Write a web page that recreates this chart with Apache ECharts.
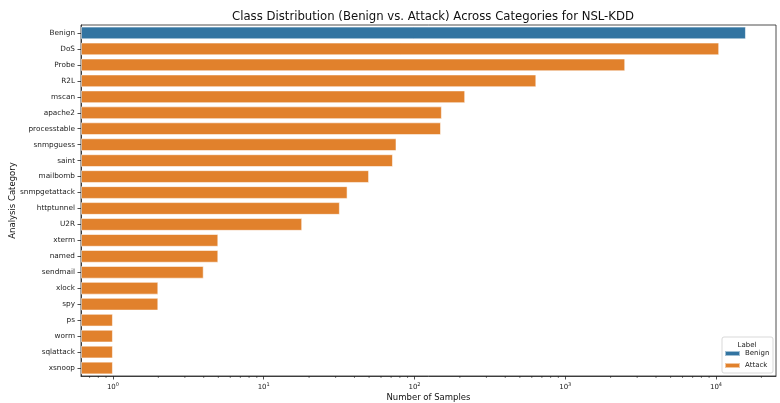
<!DOCTYPE html>
<html>
<head>
<meta charset="utf-8">
<script src="https://cdn.jsdelivr.net/npm/echarts@6/dist/echarts.min.js"></script>
<style>
  html, body { margin: 0; padding: 0; background: #fff; }
  #chart { width: 780px; height: 403px; }
</style>
</head>
<body>
<div id="chart"></div>
<script>
// Samples per analysis category in NSL-KDD
const categories = ['Benign', 'DoS', 'Probe', 'R2L', 'mscan', 'apache2', 'processtable',
  'snmpguess', 'saint', 'mailbomb', 'snmpgetattack', 'httptunnel', 'U2R', 'xterm',
  'named', 'sendmail', 'xlock', 'spy', 'ps', 'worm', 'sqlattack', 'xsnoop'];
const counts = [15800, 10500, 2500, 643, 217, 152, 150, 76, 72, 50, 36, 32, 18, 5,
  5, 4, 2, 2, 1, 1, 1, 1];
const labels = ['Benign', 'Attack', 'Attack', 'Attack', 'Attack', 'Attack', 'Attack',
  'Attack', 'Attack', 'Attack', 'Attack', 'Attack', 'Attack', 'Attack', 'Attack',
  'Attack', 'Attack', 'Attack', 'Attack', 'Attack', 'Attack', 'Attack'];
const labelNames = ['Benign', 'Attack'];
const labelColors = ['#3274a1', '#e1812c'];
const xMin = 0.614, xMax = 25000;

const grid = { left: 81, right: 4, top: 25, bottom: 27 };
const font = 'DejaVu Sans';

const chart = echarts.init(document.getElementById('chart'), null, { renderer: 'canvas' });

const series = labelNames.map((name, i) => ({
  name: name,
  type: 'bar',
  barGap: '-100%',
  barCategoryGap: '20%',
  itemStyle: { color: labelColors[i], borderColor: 'rgba(255,255,255,0.55)', borderWidth: 1 },
  data: counts.map((v, k) => labels[k] === name ? v : '-'),
  emphasis: { disabled: true },
  animation: false
}));

chart.setOption({
  animation: false,
  title: {
    text: 'Class Distribution (Benign vs. Attack) Across Categories for NSL-KDD',
    left: 428, top: 6, textAlign: 'center',
    textStyle: { fontFamily: font, fontSize: 11.7, fontWeight: 'normal', color: '#111' }
  },
  grid: Object.assign({ show: true, borderColor: '#222', borderWidth: 0.8, backgroundColor: '#fff',
    outerBoundsMode: 'none', containLabel: false }, grid),
  xAxis: {
    type: 'log', logBase: 10, min: xMin, max: xMax, startValue: xMin,
    name: 'Number of Samples', nameLocation: 'middle', nameGap: 17, nameMoveOverlap: false,
    nameTextStyle: { fontFamily: font, fontSize: 8.5, color: '#111' },
    axisLine: { show: true, lineStyle: { color: '#222', width: 0.8 } },
    axisTick: { show: true, length: 3.5, lineStyle: { color: '#222', width: 0.8 } },
    splitLine: { show: false },
    axisLabel: {
      showMinLabel: false, showMaxLabel: false, margin: 6,
      fontFamily: font, fontSize: 7, color: '#222',
      formatter: v => '10{s|' + Math.round(Math.log10(v)) + '}',
      rich: { s: { fontSize: 5, verticalAlign: 'top', padding: [0, 0, 5, 0], fontFamily: font, color: '#222' } }
    }
  },
  yAxis: {
    type: 'category', data: categories, inverse: true,
    name: 'Analysis Category', nameLocation: 'middle', nameGap: 64, nameRotate: 90, nameMoveOverlap: false,
    nameTextStyle: { fontFamily: font, fontSize: 8.5, color: '#111' },
    axisLine: { show: true, lineStyle: { color: '#222', width: 0.8 } },
    axisTick: { show: true, alignWithLabel: true, length: 3.5, lineStyle: { color: '#222', width: 0.8 } },
    axisLabel: { fontFamily: font, fontSize: 7.3, color: '#222', margin: 6 }
  },
  legend: {
    data: labelNames, orient: 'vertical', left: 724, top: 350,
    itemWidth: 15, itemHeight: 5, itemGap: 5, padding: 0, z: 20,
    textStyle: { fontFamily: font, fontSize: 7, color: '#222' },
    icon: 'rect'
  },
  series: series
});

// legend frame, legend title and log minor ticks on the x axis
const bottomY = 403 - grid.bottom;
const graphics = [
  { type: 'rect', z: 15, shape: { x: 722, y: 337, width: 51, height: 36, r: 2 },
    style: { fill: 'rgba(255,255,255,0.85)', stroke: '#cfcfcf', lineWidth: 0.8 } },
  { type: 'text', z: 16, style: { x: 747, y: 345, text: 'Label', fontFamily: font, fontSize: 7, fill: '#222', align: 'center', verticalAlign: 'middle' } }
];
for (let e = -1; e <= 4; e++) {
  for (let k = 2; k <= 9; k++) {
    const v = k * Math.pow(10, e);
    if (v <= xMin || v >= xMax) continue;
    const px = chart.convertToPixel({ xAxisIndex: 0 }, v);
    graphics.push({ type: 'line', z: 5, silent: true,
      shape: { x1: px, y1: bottomY, x2: px, y2: bottomY + 2 },
      style: { stroke: '#222', lineWidth: 0.6 } });
  }
}
chart.setOption({ graphic: graphics });
</script>
</body>
</html>
